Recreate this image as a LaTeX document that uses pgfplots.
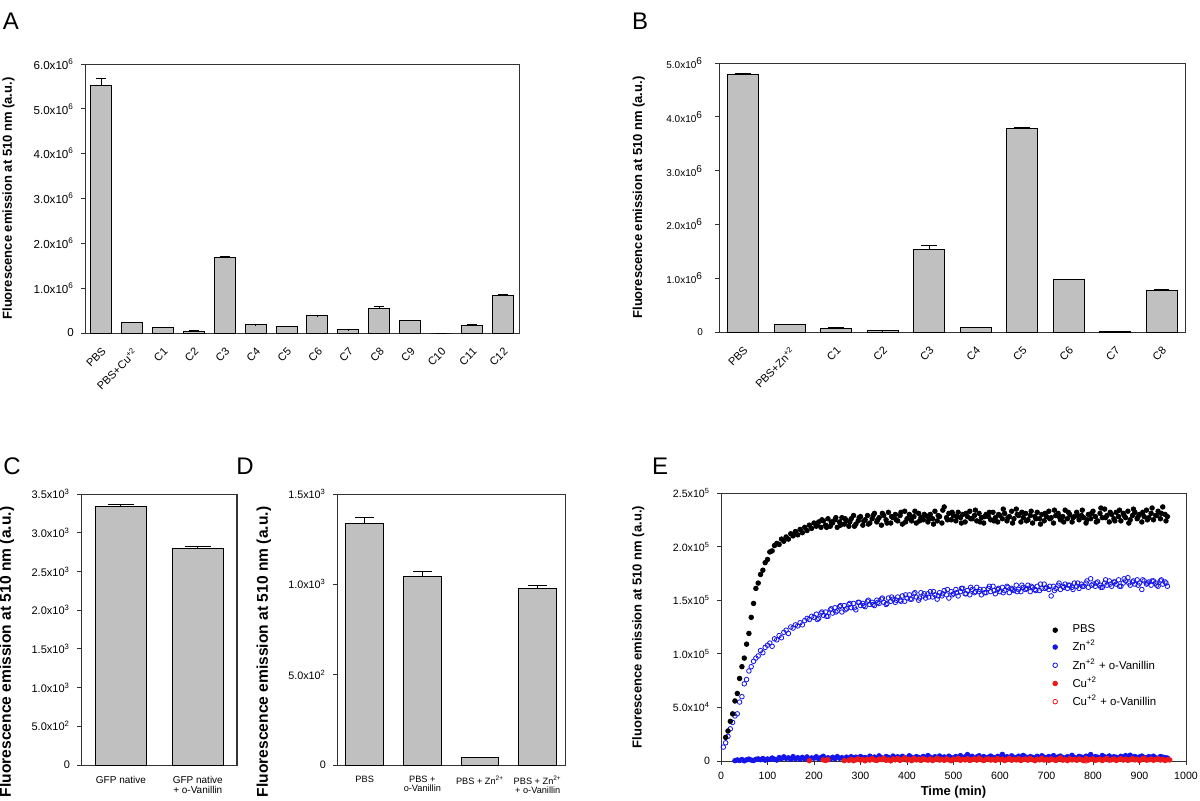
\documentclass[border=0pt]{standalone}
\usepackage{pgfplots}
\pgfplotsset{compat=1.18}
\usepackage{fontspec}
\setmainfont{Liberation Sans}
\definecolor{barfill}{RGB}{192,192,192}
\definecolor{znblue}{RGB}{20,20,235}
\definecolor{cured}{RGB}{235,25,25}
\newcommand{\sci}[2]{#1x10\textsuperscript{#2}}
\newcommand{\fs}[1]{\fontsize{#1}{#1}\selectfont}
\newcommand{\lb}{\bfseries\fontsize{6.5}{7.5}\selectfont}
\newcommand{\lbb}{\bfseries\fontsize{7.8}{9}\selectfont}

\pgfplotsset{
  panel/.style={
    scale only axis, anchor=south west,
    axis line style={black!80, line width=0.5pt},
    tick align=outside, tick pos=left,
    major tick length=2pt,
    tick style={black!80, line width=0.5pt},
    tick label style={font=\fs{5}},
    ylabel style={font=\lb},
    xlabel style={font=\lb},
    /pgf/number format/assume math mode=true,
    ymin=0,
  },
  barpanel/.style={
    panel, ybar,
    major x tick style={draw=none},
    error bars/y dir=plus, error bars/y explicit,
    error bars/error bar style={black, line width=0.5pt},
    error bars/error mark options={black, line width=0.5pt, rotate=90, mark size=#1},
  },
  bars/.style={fill=barfill, draw=black, line width=0.5pt, bar width=#1},
}

\begin{document}
\begin{tikzpicture}
\path[use as bounding box] (0,0) rectangle (600pt,400pt);

\node[font=\fs{12}] at (5.5pt,389.5pt) {A};
\node[font=\fs{12}] at (320pt,389.5pt) {B};
\node[font=\fs{12}] at (6pt,167pt) {C};
\node[font=\fs{12}] at (122.5pt,167pt) {D};
\node[font=\fs{12}] at (330pt,167pt) {E};

% A
\begin{axis}[barpanel=2.6pt, at={(42.5pt,233.5pt)}, width=217pt, height=134.5pt,
  xmin=-0.52, xmax=13.52, ymax=6,
  xtick={0,...,13},
  xticklabels={PBS,PBS+Cu\textsuperscript{+2},C1,C2,C3,C4,C5,C6,C7,C8,C9,C10,C11,C12},
  xticklabel style={rotate=45, anchor=north east, font=\fs{5.5}},
  yticklabel style={font=\fs{5.8}},
  ytick={0,...,6},
  yticklabels={0,\sci{1.0}{6},\sci{2.0}{6},\sci{3.0}{6},\sci{4.0}{6},\sci{5.0}{6},\sci{6.0}{6}},
  ylabel={Fluorescence emission at 510 nm (a.u.)},
  ylabel style={at={(axis description cs:-0.176,0.5)}, anchor=center},
]
\addplot[bars=10.5pt] coordinates {
  (0,5.52) +- (0,0.15)  (1,0.238) +- (0,0.005) (2,0.12) +- (0,0.006)
  (3,0.04) +- (0,0.005) (4,1.68) +- (0,0.02)   (5,0.18) +- (0,0.008)
  (6,0.134) +- (0,0.02) (7,0.38) +- (0,0.01)   (8,0.067) +- (0,0.006)
  (9,0.55) +- (0,0.045) (10,0.27) +- (0,0.02)  (11,0) +- (0,0)
  (12,0.17) +- (0,0.01) (13,0.83) +- (0,0.03)
};
\end{axis}

% B
\begin{axis}[barpanel=3.9pt, at={(359.5pt,234pt)}, width=233pt, height=134.5pt,
  xmin=-0.516, xmax=9.505, ymax=5,
  xtick={0,...,9},
  xticklabels={PBS,PBS+Zn\textsuperscript{+2},C1,C2,C3,C4,C5,C6,C7,C8},
  xticklabel style={rotate=45, anchor=north east, font=\fs{5.5}},
  yticklabel style={xshift=-2.5pt},
  ytick={0,...,5},
  yticklabels={0,\sci{1.0}{6},\sci{2.0}{6},\sci{3.0}{6},\sci{4.0}{6},\sci{5.0}{6}},
  ylabel={Fluorescence emission at 510 nm (a.u.)},
  ylabel style={at={(axis description cs:-0.172,0.5)}, anchor=center},
]
\addplot[bars=15.5pt] coordinates {
  (0,4.78) +- (0,0.02)  (1,0.142) +- (0,0.004) (2,0.072) +- (0,0.005)
  (3,0.02) +- (0,0.003) (4,1.53) +- (0,0.075)  (5,0.085) +- (0,0.005)
  (6,3.78) +- (0,0.025) (7,0.972) +- (0,0.005) (8,0.012) +- (0,0.002)
  (9,0.768) +- (0,0.03)
};
\end{axis}

% C
\begin{axis}[barpanel=6.5pt, at={(40.5pt,17.5pt)}, width=78pt, height=135.5pt,
  xmin=-0.52, xmax=1.51, ymax=3.5,
  xtick={0,1},
  xticklabels={GFP native,{GFP native\\+ o-Vanillin}},
  xticklabel style={align=center},
  yticklabel style={font=\fs{5.5}},
  ytick={0,0.5,...,3.5},
  yticklabels={0,\sci{5.0}{2},\sci{1.0}{3},\sci{1.5}{3},\sci{2.0}{3},\sci{2.5}{3},\sci{3.0}{3},\sci{3.5}{3}},
  ylabel={Fluorescence emission at 510 nm (a.u.)},
  ylabel style={font=\lbb, at={(axis description cs:-0.475,0.417)}, anchor=center},
]
\addplot[bars=25.8pt] coordinates {
  (0,3.345) +- (0,0.025) (1,2.798) +- (0,0.02)
};
\end{axis}

% D
\begin{axis}[barpanel=4.7pt, at={(168.5pt,17.5pt)}, width=114.5pt, height=135.5pt,
  xmin=-0.48, xmax=3.49, ymax=1.5,
  xtick={0,...,3},
  xticklabels={PBS,{PBS +\\o-Vanillin},PBS + Zn\textsuperscript{2+},{PBS + Zn\textsuperscript{2+}\\+ o-Vanillin}},
  xticklabel style={align=center, font=\fs{4.6}},
  yticklabel style={font=\fs{5.4}},
  ytick={0,0.5,1,1.5},
  yticklabels={0,\sci{5.0}{2},\sci{1.0}{3},\sci{1.5}{3}},
  ylabel={Fluorescence emission at 510 nm (a.u.)},
  ylabel style={font=\lbb, at={(axis description cs:-0.319,0.417)}, anchor=center},
]
\addplot[bars=18.85pt] coordinates {
  (0,1.3375) +- (0,0.03) (1,1.042) +- (0,0.029) (2,0.0406) +- (0,0.001) (3,0.979) +- (0,0.013)
};
\end{axis}

% E
\begin{axis}[panel, at={(360.5pt,19.5pt)}, width=232.5pt, height=134pt,
  xmin=0, xmax=1000, ymax=250, clip=false,
  tick label style={font=\fs{5.3}},
  xtick={0,100,...,1000},
  xticklabels={0,100,200,300,400,500,600,700,800,900,1000},
  ytick={0,50,...,250},
  yticklabels={0,\sci{5.0}{4},\sci{1.0}{5},\sci{1.5}{5},\sci{2.0}{5},\sci{2.5}{5}},
  xlabel={Time (min)},
  xlabel style={at={(axis description cs:0.5,-0.118)}, anchor=center},
  ylabel={Fluorescence emission at 510 nm (a.u.)},
  ylabel style={at={(axis description cs:-0.178,0.5)}, anchor=center},
  legend cell align=left,
  legend style={draw=none, fill=none, at={(0.70,0.54)}, anchor=north west,
    font=\fs{5.7}, row sep=-1.7pt, column sep=5.5pt},
]
% Zn+2 (filled blue)
\addplot[only marks, mark=*, mark size=1.15pt, color=znblue, forget plot] coordinates {
(30,0.3)(35,1.0)(40,0.5)(45,1.4)(50,0.2)(55,1.1)(60,1.8)(65,0.9)(70,0.4)(75,1.6)
(80,2.0)(85,1.2)(90,2.3)(95,0.8)(100,1.9)(105,1.4)(110,2.8)(115,1.7)(120,0.9)(125,3.2)
(130,2.1)(135,3.9)(140,2.5)(145,3.0)(150,1.5)(155,4.1)(160,2.2)(165,3.1)(170,1.6)(175,3.4)
(180,2.0)(185,3.8)(190,1.2)(195,2.9)(200,2.6)(205,4.0)(210,2.1)(215,3.2)(220,4.4)(225,2.0)
(230,3.0)(235,1.6)(240,3.5)(245,2.2)(250,4.1)(255,2.6)(260,3.1)(265,1.3)(270,3.6)(275,2.1)
(280,4.0)(285,2.7)(290,3.6)(295,1.8)(300,4.2)(305,2.9)(310,3.3)(315,2.0)(320,4.5)(325,2.6)
(330,3.7)(335,2.3)(340,4.8)(345,3.1)(350,2.5)(355,4.2)(360,3.4)(365,2.1)(370,4.6)(375,3.0)
(380,3.9)(385,2.4)(390,4.4)(395,3.2)(400,2.7)(405,4.9)(410,3.5)(415,2.2)(420,4.1)(425,3.3)
(430,2.6)(435,4.3)(440,3.0)(445,5.1)(450,3.6)(455,2.4)(460,4.0)(465,3.2)(470,4.7)(475,2.8)
(480,3.8)(485,2.5)(490,4.5)(495,3.1)(500,2.9)(505,4.2)(510,3.4)(515,5.0)(520,2.7)(525,3.9)
(530,6.0)(535,3.2)(540,4.4)(545,2.6)(550,3.8)(555,4.9)(560,3.0)(565,4.1)(570,2.5)(575,3.6)
(580,4.6)(585,3.3)(590,2.8)(595,4.3)(600,3.7)(605,6.2)(610,3.1)(615,4.0)(620,2.7)(625,4.8)
(630,3.4)(635,2.9)(640,4.5)(645,3.2)(650,5.2)(655,3.8)(660,2.6)(665,4.1)(670,3.5)(675,2.8)
(680,4.4)(685,3.0)(690,4.9)(695,3.6)(700,2.7)(705,4.2)(710,3.3)(715,5.0)(720,2.9)(725,3.8)
(730,4.6)(735,3.1)(740,2.8)(745,4.0)(750,3.5)(755,5.3)(760,3.2)(765,2.6)(770,4.3)(775,3.7)
(780,2.9)(785,4.5)(790,3.4)(795,6.0)(800,3.0)(805,4.1)(810,3.6)(815,2.7)(820,5.1)(825,3.9)
(830,3.3)(835,4.7)(840,2.8)(845,4.0)(850,3.5)(855,2.6)(860,4.4)(865,3.1)(870,5.0)(875,3.7)
(880,5.4)(885,3.2)(890,4.2)(895,2.9)(900,3.8)(905,4.6)(910,3.4)(915,2.7)(920,4.1)(925,3.5)
(930,4.5)(935,3.0)(940,2.6)(945,4.2)(950,3.6)(955,3.1)(960,2.8)
};
% Cu+2 (filled red)
\addplot[only marks, mark=*, mark size=1.15pt, color=cured, forget plot] coordinates {
(190,0.3)(220,1.0)(225,0.5)(230,1.2)(265,0.4)
(275,0.6)(280,1.5)(285,0.3)(290,1.1)(295,2.0)(300,0.8)(305,1.4)(310,0.2)(315,1.7)(320,0.9)
(325,2.2)(330,1.0)(335,0.5)(340,1.8)(345,1.3)(350,2.5)(355,0.7)(360,1.2)(365,0.4)(370,1.9)
(375,1.1)(380,2.3)(385,0.6)(390,1.5)(395,2.8)(400,0.9)(405,1.6)(410,0.3)(415,2.4)(420,1.0)
(425,1.7)(430,0.5)(435,2.1)(440,1.2)(445,0.8)(450,1.9)(455,0.4)(460,1.4)(465,2.6)(470,0.9)
(475,1.5)(480,0.6)(485,2.0)(490,1.1)(495,0.3)(500,1.8)(505,1.3)(510,2.4)(515,0.7)(520,1.6)
(525,1.0)(530,2.2)(535,0.5)(540,1.4)(545,1.9)(550,0.8)(555,2.7)(560,1.2)(565,0.4)(570,1.7)
(575,2.0)(580,0.9)(585,1.5)(590,0.6)(595,2.3)(600,1.1)(605,1.8)(610,0.4)(615,1.3)(620,2.5)
(625,0.7)(630,1.6)(635,1.0)(640,2.1)(645,0.5)(650,1.4)(655,1.9)(660,0.8)(665,2.4)(670,1.2)
(675,0.3)(680,1.7)(685,1.1)(690,2.6)(695,0.9)(700,1.5)(705,0.6)(710,2.0)(715,1.3)(720,0.5)
(725,1.8)(730,2.9)(735,0.8)(740,1.4)(745,0.4)(750,2.2)(755,1.0)(760,1.6)(765,0.7)(770,1.9)
(775,1.2)(780,0.3)(785,2.3)(790,0.9)(795,1.5)(800,2.0)(805,0.6)(810,1.3)(815,1.8)(820,0.4)
(825,1.6)(830,2.4)(835,0.8)(840,1.1)(845,1.9)(850,0.5)(855,1.4)(860,2.1)(865,0.9)(870,1.7)
(875,0.6)(880,1.3)(885,2.2)(890,1.0)(895,1.5)(900,0.3)(905,1.8)(910,2.5)(915,0.8)(920,1.2)
(925,1.9)(930,0.7)(935,1.4)(940,2.1)(945,0.9)(950,1.6)(955,0.5)(960,1.2)(965,1.0)
};
% Cu+2 + o-Vanillin (open red)
\addplot[only marks, mark=o, mark size=1.15pt, color=cured, mark options={fill=white}, forget plot] coordinates {
(365,0.2)(785,0.1)
};
% Zn+2 + o-Vanillin (open blue)
\addplot[only marks, mark=o, mark size=1.15pt, color=znblue, mark options={line width=0.4pt}, forget plot] coordinates {
(5,13)(10,17)(15,23)(20,30)(25,36)(30,42)(35,44)(40,55)(45,60)(50,72)
(55,76)(60,84)(65,88)(70,93)(75,96)(80,98)(85,103)(90,101)(95,106)(100,108)
(105,110)(110,107)(115,114)(120,113)(125,117)(130,115)(135,120)(140,122)(145,119)(150,125)
(155,124)(160,127)(165,126)(170,129)(175,127)(180,131)(185,133)(190,132)(195,135)(200,134)
(205,137)(210,133)(215,138)(220,136)(225,139)(230,135)(235,141)(240,138)(245,143)(250,140)
(255,144)(260,139)(265,145)(270,142)(275,146)(280,143)(285,147)(290,141)(295,148)(300,145)
(305,147)(310,144)(315,149)(320,146)(325,148)(330,145)(335,150)(340,147)(345,151)(350,148)
(355,146)(360,152)(365,149)(370,151)(375,148)(380,153)(385,150)(390,154)(395,149)(400,152)
(405,155)(410,151)(415,156)(420,153)(425,150)(430,157)(435,154)(440,152)(445,156)(450,158)
(455,153)(460,155)(465,151)(470,157)(475,154)(480,159)(485,155)(490,152)(495,158)(500,156)
(505,160)(510,154)(515,158)(520,161)(525,156)(530,159)(535,155)(540,160)(545,157)(550,162)
(555,158)(560,155)(565,160)(570,157)(575,161)(580,158)(585,163)(590,156)(595,160)(600,158)
(605,162)(610,159)(615,163)(620,157)(625,161)(630,159)(635,164)(640,160)(645,158)(650,162)
(655,160)(660,164)(665,158)(670,162)(675,160)(680,163)(685,159)(690,161)(695,165)(700,162)
(705,160)(710,154)(715,163)(720,161)(725,164)(730,160)(735,163)(740,165)(745,161)(750,164)
(755,162)(760,166)(765,163)(770,161)(775,165)(780,163)(785,166)(790,162)(795,170)(800,165)
(805,163)(810,167)(815,164)(820,162)(825,166)(830,164)(835,168)(840,163)(845,167)(850,165)
(855,169)(860,163)(865,166)(870,168)(875,171)(880,164)(885,167)(890,165)(895,169)(900,166)
(905,160)(910,168)(915,165)(920,167)(925,164)(930,168)(935,166)(940,163)(945,168)(950,165)
(955,167)(960,163)
(207,132)(217,139)(227,135)(237,142)(247,139)(257,145)(267,141)(277,147)(287,143)(297,148)
(307,145)(317,150)(327,146)(337,148)(347,152)(357,147)(367,153)(377,150)(387,149)(397,155)
(407,151)(417,157)(427,152)(437,156)(447,153)(457,158)(467,154)(477,156)(487,160)(497,155)
(507,157)(517,161)(527,156)(537,162)(547,158)(557,160)(567,157)(577,163)(587,159)(597,161)
(607,157)(617,162)(627,160)(637,158)(647,164)(657,161)(667,163)(677,159)(687,165)(697,161)
(707,163)(717,159)(727,166)(737,162)(747,164)(757,160)(767,166)(777,163)(787,168)(797,164)
(807,166)(817,162)(827,169)(837,165)(847,167)(857,163)(867,170)(877,166)(887,168)(897,164)
(907,169)(917,166)(927,168)(937,164)(947,169)(957,166)
};
% PBS (filled black)
\addplot[only marks, mark=*, mark size=1.15pt, color=black, forget plot] coordinates {
(10,22)(15,28)(20,37)(25,44)(30,56)(35,63)(40,77)(45,88)(50,96)(55,109)
(60,119)(65,134)(70,147)(75,161)(80,166)(85,174)(90,178)(95,185)(100,188)(105,195)
(110,196)(115,201)(120,203)(125,202)(130,207)(135,205)(140,209)(145,207)(150,212)(155,210)
(160,214)(165,211)(170,216)(175,213)(180,218)(185,215)(190,220)(195,217)(200,222)(205,219)
(210,223)(215,218)(220,224)(225,220)(230,226)(235,219)(240,222)(245,225)(250,218)(255,223)
(260,227)(265,221)(270,224)(275,219)(280,226)(285,229)(290,221)(295,224)(300,228)(305,220)
(310,225)(315,229)(320,222)(325,226)(330,231)(335,223)(340,227)(345,220)(350,229)(355,225)
(360,232)(365,222)(370,227)(375,230)(380,224)(385,229)(390,221)(395,233)(400,226)(405,230)
(410,224)(415,228)(420,222)(425,231)(430,227)(435,225)(440,229)(445,223)(450,230)(455,226)
(460,233)(465,224)(470,228)(475,222)(480,237)(485,227)(490,231)(495,225)(500,229)(505,224)
(510,232)(515,227)(520,230)(525,223)(530,228)(535,233)(540,226)(545,229)(550,224)(555,231)
(560,227)(565,222)(570,230)(575,228)(580,225)(585,232)(590,227)(595,223)(600,229)(605,226)
(610,231)(615,224)(620,228)(625,233)(630,226)(635,235)(640,229)(645,223)(650,227)(655,231)
(660,225)(665,229)(670,222)(675,228)(680,232)(685,226)(690,230)(695,224)(700,228)(705,233)
(710,227)(715,222)(720,229)(725,231)(730,225)(735,228)(740,234)(745,226)(750,230)(755,223)
(760,228)(765,232)(770,225)(775,229)(780,227)(785,222)(790,230)(795,226)(800,233)(805,228)
(810,224)(815,231)(820,227)(825,235)(830,229)(835,223)(840,230)(845,226)(850,232)(855,228)
(860,224)(865,231)(870,227)(875,233)(880,225)(885,229)(890,232)(895,226)(900,230)(905,223)
(910,228)(915,234)(920,227)(925,231)(930,225)(935,229)(940,233)(945,226)(950,237)(955,230)
(960,228)
(207,221)(217,225)(227,218)(237,223)(247,227)(257,220)(267,226)(277,223)(287,219)(297,227)
(307,224)(317,221)(327,229)(337,225)(347,231)(357,222)(367,228)(377,225)(387,232)(397,223)
(407,227)(417,233)(427,224)(437,230)(447,226)(457,221)(467,229)(477,234)(487,225)(497,232)
(507,228)(517,222)(527,231)(537,226)(547,234)(557,223)(567,228)(577,232)(587,224)(597,230)
(607,235)(617,227)(627,222)(637,230)(647,232)(657,224)(667,233)(677,226)(687,221)(697,231)
(707,226)(717,234)(727,228)(737,223)(747,232)(757,227)(767,229)(777,234)(787,225)(797,231)
(807,223)(817,236)(827,227)(837,232)(847,224)(857,234)(867,229)(877,222)(887,235)(897,228)
(907,232)(917,225)(927,236)(937,229)(947,231)(957,224)
};
\addlegendimage{only marks, mark=*, mark size=1.15pt, color=black}
\addlegendentry{PBS}
\addlegendimage{only marks, mark=*, mark size=1.15pt, color=znblue}
\addlegendentry{Zn\textsuperscript{+2}}
\addlegendimage{only marks, mark=o, mark size=1.15pt, color=znblue}
\addlegendentry{Zn\textsuperscript{+2} + o-Vanillin}
\addlegendimage{only marks, mark=*, mark size=1.15pt, color=cured}
\addlegendentry{Cu\textsuperscript{+2}}
\addlegendimage{only marks, mark=o, mark size=1.15pt, color=cured}
\addlegendentry{Cu\textsuperscript{+2} + o-Vanillin}
\end{axis}
\end{tikzpicture}
\end{document}
